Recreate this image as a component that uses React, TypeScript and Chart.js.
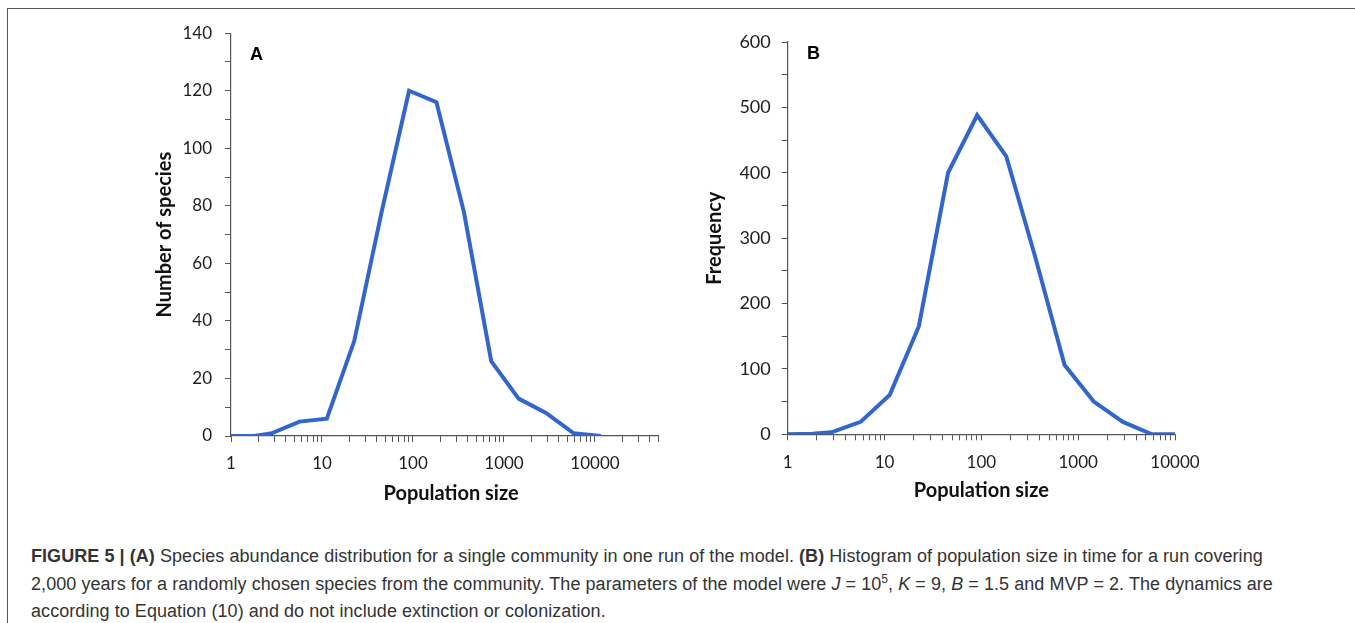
import React, { useEffect, useRef } from 'react';
import { Chart, registerables } from 'chart.js';

Chart.register(...registerables);

// Panel A: species abundance distribution
const sizesA = [1, 1.8, 2.83, 5.66, 11.3, 22.6, 45.3, 90.5, 181, 362, 724, 1448, 2896, 5793, 11585];
const speciesA = [0, 0, 1, 5, 6, 33, 78, 120, 116, 78, 26, 13, 8, 1, 0];

// Panel B: histogram of population size in time
const sizesB = [1, 1.8, 2.83, 5.66, 11.3, 22.6, 45.3, 90.5, 181, 362, 724, 1448, 2896, 5793, 11585];
const freqB = [0, 1, 3, 19, 60, 165, 400, 488, 425, 270, 106, 50, 19, 0, 0];

const decadeLabels = [1, 10, 100, 1000, 10000];

const LINE_COLOR = '#3366cc';
const AXIS_COLOR = '#555555';
const TICK_COLOR = '#1e1e1e';

function logTickValues(max: number): number[] {
  const out: number[] = [];
  for (let d = 1; d <= max; d *= 10) {
    for (let m = 1; m <= 9; m++) {
      const v = m * d;
      if (v <= max) out.push(v);
    }
  }
  return out;
}

type PanelOpts = {
  xs: number[];
  ys: number[];
  xMax: number;
  yMax: number;
  yStep: number;
  yLabelStep: number;
  yTitle: string;
  xTitle: string;
  yAxisWidth: number;
  xAxisHeight: number;
  padTop: number;
  padRight: number;
  yTitlePad: number;
  xTitlePad: number;
  yTickPad: number;
  xTickPad: number;
  yTickFont: number;
};

function makeConfig(o: PanelOpts): any {
  const data = o.xs.map((x, i) => ({ x, y: o.ys[i] }));
  return {
    type: 'line',
    data: {
      datasets: [
        {
          data,
          borderColor: LINE_COLOR,
          backgroundColor: LINE_COLOR,
          borderWidth: 4,
          pointRadius: 0,
          pointHoverRadius: 0,
          tension: 0,
          fill: false,
        },
      ],
    },
    options: {
      animation: false,
      responsive: false,
      maintainAspectRatio: false,
      layout: { padding: { top: o.padTop, right: o.padRight, left: 0, bottom: 0 } },
      plugins: { legend: { display: false }, tooltip: { enabled: false }, title: { display: false } },
      scales: {
        x: {
          type: 'logarithmic',
          min: 1,
          max: o.xMax,
          afterBuildTicks: (scale: any) => {
            scale.ticks = logTickValues(o.xMax).map((v) => ({ value: v }));
          },
          afterFit: (scale: any) => {
            scale.height = o.xAxisHeight;
          },
          ticks: {
            autoSkip: false,
            maxRotation: 0,
            minRotation: 0,
            padding: o.xTickPad,
            color: TICK_COLOR,
            font: { family: 'Lato', size: 17 },
            callback: (v: any) => (decadeLabels.indexOf(Number(v)) >= 0 ? String(v) : ''),
          },
          grid: {
            drawOnChartArea: false,
            drawTicks: true,
            tickLength: 6,
            color: AXIS_COLOR,
            lineWidth: 1,
          },
          border: { display: true, color: AXIS_COLOR, width: 1.2 },
          title: {
            display: true,
            text: o.xTitle,
            color: '#111',
            font: { family: 'Lato', size: 20, weight: 'bold' },
            padding: { top: 0, bottom: o.xTitlePad },
          },
        },
        y: {
          type: 'linear',
          min: 0,
          max: o.yMax,
          afterFit: (scale: any) => {
            scale.width = o.yAxisWidth;
          },
          ticks: {
            stepSize: o.yStep,
            autoSkip: false,
            padding: o.yTickPad,
            color: TICK_COLOR,
            font: { family: 'Lato', size: o.yTickFont },
            callback: (v: any) => (Number(v) % o.yLabelStep === 0 ? String(v) : ''),
          },
          grid: {
            drawOnChartArea: false,
            drawTicks: true,
            tickLength: 6,
            color: AXIS_COLOR,
            lineWidth: 1,
          },
          border: { display: true, color: AXIS_COLOR, width: 1.2 },
          title: {
            display: true,
            text: o.yTitle,
            color: '#111',
            font: { family: 'Lato', size: 20, weight: 'bold' },
            padding: { top: o.yTitlePad, bottom: 0 },
          },
        },
      },
    },
  };
}

function Panel(props: { opts: PanelOpts; left: number; top: number; width: number; height: number }) {
  const ref = useRef<HTMLCanvasElement | null>(null);
  useEffect(() => {
    if (!ref.current) return;
    const chart = new Chart(ref.current, makeConfig(props.opts));
    return () => chart.destroy();
  }, []);
  return (
    <canvas
      ref={ref}
      width={props.width}
      height={props.height}
      style={{ position: 'absolute', left: props.left, top: props.top, width: props.width, height: props.height }}
    />
  );
}

const optsA: PanelOpts = {
  xs: sizesA,
  ys: speciesA,
  xMax: 50000,
  yMax: 140,
  yStep: 10,
  yLabelStep: 20,
  yTitle: 'Number of species',
  xTitle: '\u2002\u2009Population size',
  yAxisWidth: 101,
  xAxisHeight: 84,
  padTop: 21,
  padRight: 31.4,
  yTitlePad: 23,
  xTitlePad: 14,
  yTickPad: 13,
  xTickPad: 11,
  yTickFont: 17,
};

const optsB: PanelOpts = {
  xs: sizesB,
  ys: freqB,
  xMax: 10000,
  yMax: 600,
  yStep: 50,
  yLabelStep: 100,
  yTitle: 'Frequency',
  xTitle: 'Population size',
  yAxisWidth: 97.7,
  xAxisHeight: 85.7,
  padTop: 32,
  padRight: 75,
  yTitlePad: 13,
  xTitlePad: 17,
  yTickPad: 11,
  xTickPad: 12,
  yTickFont: 18,
};

export default function App() {
  const captionStyle: React.CSSProperties = {
    position: 'absolute',
    left: 31,
    top: 543,
    fontFamily: '"Liberation Sans", Arial, sans-serif',
    fontSize: 18,
    lineHeight: '27.5px',
    letterSpacing: '0.06px',
    color: '#333',
    whiteSpace: 'nowrap',
  };
  const sup: React.CSSProperties = { fontSize: 12, verticalAlign: 'super', lineHeight: 0 };
  const letter: React.CSSProperties = {
    position: 'absolute',
    fontFamily: '"Liberation Sans", Arial, sans-serif',
    fontWeight: 'bold',
    fontSize: 18,
    lineHeight: '18px',
    color: '#000',
  };
  return (
    <div style={{ position: 'absolute', left: 0, top: 0, width: 1355, height: 623, overflow: 'hidden', background: '#fff' }}>
      <div
        style={{
          position: 'absolute',
          left: 7,
          top: 8,
          width: 1400,
          height: 700,
          border: '1.5px solid #555',
          boxSizing: 'border-box',
        }}
      />
      <Panel opts={optsA} left={130} top={10} width={560} height={510} />
      <Panel opts={optsB} left={690} top={10} width={560} height={510} />
      <div style={{ ...letter, left: 250, top: 45 }}>A</div>
      <div style={{ ...letter, left: 807, top: 44 }}>B</div>
      <div style={captionStyle}>
        <b>FIGURE 5 | (A)</b> Species abundance distribution for a single community in one run of the model. <b>(B)</b>{' '}
        Histogram of population size in time for a run covering
        <br />
        2,000 years for a randomly chosen species from the community. The parameters of the model were <i>J</i> = 10
        <span style={sup}>5</span>, <i>K</i> = 9, <i>B</i> = 1.5 and MVP = 2. The dynamics are
        <br />
        according to Equation (10) and do not include extinction or colonization.
      </div>
    </div>
  );
}
